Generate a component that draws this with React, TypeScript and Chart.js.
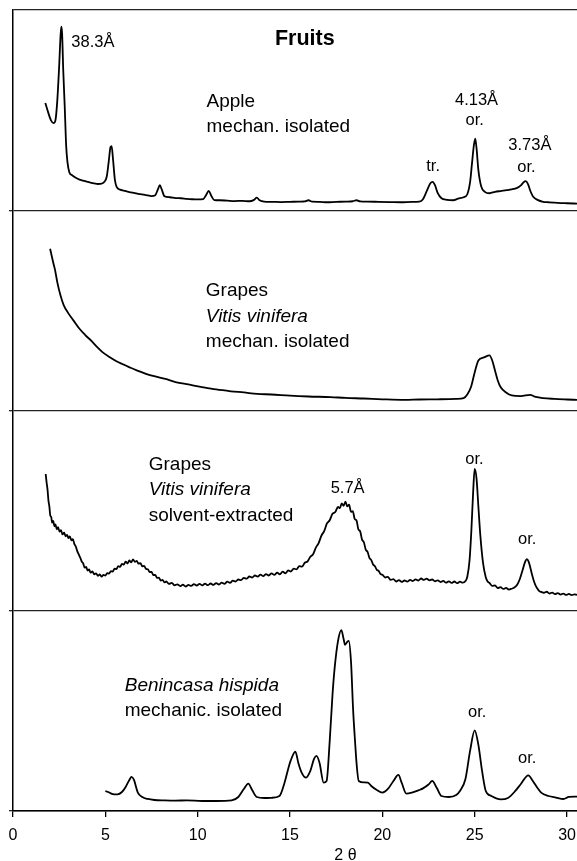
import React, { useEffect, useRef } from "react";
import { Chart, registerables } from "chart.js";

Chart.register(...registerables);

// x-axis ticks (2θ) and panel boundaries (each panel is 100 units tall)
const xTicks = [0, 5, 10, 15, 20, 25, 30];
const panelBounds = [0, 100, 200, 300, 400];

// Panel 1: Apple, mechan. isolated
const appleX = [1.75, 1.9, 2.05, 2.2, 2.3, 2.4, 2.5, 2.58, 2.62, 2.66, 2.72, 2.8, 2.88, 2.95, 3.05, 3.2, 3.4, 3.6, 3.8, 4.0, 4.2, 4.4, 4.6, 4.8, 4.95, 5.08, 5.18, 5.28, 5.34, 5.42, 5.52, 5.62, 5.8, 6.0, 6.3, 6.6, 6.9, 7.2, 7.5, 7.7, 7.85, 7.95, 8.05, 8.2, 8.5, 8.8, 9.1, 9.4, 9.7, 10.0, 10.3, 10.45, 10.6, 10.75, 10.9, 11.2, 11.6, 12.0, 12.4, 12.8, 13.05, 13.2, 13.35, 13.6, 14.0, 14.5, 15.0, 15.5, 15.8, 16.0, 16.2, 16.6, 17.0, 17.5, 18.0, 18.4, 18.6, 18.8, 19.2, 19.8, 20.4, 21.0, 21.6, 22.0, 22.2, 22.4, 22.6, 22.72, 22.85, 23.0, 23.2, 23.5, 23.84, 24.1, 24.4, 24.6, 24.75, 24.85, 24.95, 25.03, 25.1, 25.2, 25.35, 25.55, 25.8, 26.1, 26.4, 26.73, 27.0, 27.3, 27.5, 27.65, 27.76, 27.88, 28.0, 28.17, 28.4, 28.71, 29.0, 29.5, 30.0, 30.54];
const appleY = [53.6, 49, 45, 43.5, 45, 55, 72, 88, 91.7, 88, 70, 52, 32, 24, 19, 17.5, 16.2, 15.3, 14.8, 14.3, 13.8, 13.4, 13.1, 13.3, 14.2, 17, 24, 31.5, 32, 25, 15, 11.5, 10.3, 9.8, 9.1, 8.6, 8.0, 7.6, 7.1, 7.5, 10.5, 12.5, 10.5, 7.0, 6.5, 6.1, 6.0, 5.7, 5.5, 5.4, 5.6, 7.5, 9.7, 7.0, 5.1, 5.0, 4.8, 4.6, 4.7, 4.5, 5.2, 6.3, 5.0, 4.3, 4.2, 4.1, 4.2, 4.3, 4.4, 5.0, 4.3, 4.2, 4.0, 4.2, 4.3, 4.5, 5.0, 4.4, 4.3, 4.2, 4.1, 4.0, 4.2, 4.3, 5.5, 9.5, 13.5, 14.2, 12.5, 8.5, 6.0, 5.2, 5.0, 5.8, 6.5, 8.0, 14, 23, 32, 35.8, 31, 20, 12, 9.2, 8.5, 9.2, 9.6, 10, 10.4, 11.2, 12.4, 14.0, 14.5, 13.2, 10, 6.7, 5.2, 4.2, 4.0, 3.7, 3.5, 3.3];

// Panel 2: Grapes, Vitis vinifera, mechan. isolated
const grapesMechX = [2.01, 2.1, 2.2, 2.27, 2.4, 2.57, 2.75, 3.0, 3.27, 3.6, 3.9, 4.26, 4.56, 4.86, 5.2, 5.6, 6.0, 6.26, 6.7, 7.2, 7.7, 8.25, 8.8, 9.5, 10.24, 11.0, 11.8, 12.5, 13.23, 14.0, 15.0, 16.0, 17.2, 18.0, 19.0, 20.0, 21.2, 22.0, 23.0, 24.0, 24.4, 24.6, 24.8, 25.0, 25.2, 25.5, 25.8, 25.95, 26.1, 26.25, 26.4, 26.7, 27.0, 27.5, 28.0, 28.3, 28.7, 29.3, 30.0, 30.54];
const grapesMechY = [80.8, 77, 73, 70.5, 64, 57.5, 52.5, 48.5, 45, 40.8, 37.8, 34.6, 31.6, 29.0, 26.8, 24.6, 22.9, 21.8, 20, 18.3, 17, 15.8, 14.2, 13, 11.7, 10.5, 9.6, 9.0, 8.3, 8.0, 7.4, 7.0, 6.7, 6.3, 6.0, 5.6, 5.3, 5.5, 5.6, 5.8, 6.2, 8, 11.7, 19, 25, 26.5, 27.5, 25, 20, 15, 11.7, 9, 7.5, 7.2, 7.8, 6.8, 6.2, 5.8, 5.5, 5.3];

// Panel 3: Grapes, Vitis vinifera, solvent-extracted (noisy trace)
const grapesSolvX = [1.77, 1.82, 1.87, 1.92, 1.97, 2.02, 2.07, 2.12, 2.18, 2.24, 2.3, 2.37, 2.44, 2.52, 2.6, 2.68, 2.77, 2.85, 2.93, 3.0, 3.08, 3.16, 3.24, 3.32, 3.4, 3.48, 3.56, 3.64, 3.72, 3.8, 3.88, 3.96, 4.04, 4.12, 4.2, 4.3, 4.4, 4.5, 4.6, 4.7, 4.8, 4.9, 5.0, 5.1, 5.2, 5.3, 5.4, 5.5, 5.6, 5.7, 5.8, 5.9, 6.0, 6.1, 6.2, 6.3, 6.4, 6.5, 6.6, 6.7, 6.8, 6.9, 7.0, 7.1, 7.2, 7.3, 7.4, 7.5, 7.6, 7.7, 7.8, 7.9, 8.0, 8.1, 8.2, 8.3, 8.45, 8.6, 8.75, 8.9, 9.05, 9.2, 9.35, 9.5, 9.65, 9.8, 9.95, 10.1, 10.25, 10.4, 10.55, 10.7, 10.85, 11.0, 11.15, 11.3, 11.45, 11.6, 11.75, 11.9, 12.05, 12.2, 12.35, 12.5, 12.65, 12.8, 12.95, 13.1, 13.25, 13.4, 13.55, 13.7, 13.85, 14.0, 14.15, 14.3, 14.45, 14.6, 14.75, 14.9, 15.05, 15.2, 15.35, 15.5, 15.65, 15.8, 15.95, 16.1, 16.25, 16.4, 16.55, 16.7, 16.85, 17.0, 17.15, 17.3, 17.45, 17.6, 17.7, 17.8, 17.9, 18.0, 18.1, 18.2, 18.3, 18.4, 18.5, 18.6, 18.7, 18.8, 18.9, 19.0, 19.1, 19.2, 19.3, 19.4, 19.5, 19.6, 19.7, 19.8, 19.9, 20.0, 20.15, 20.3, 20.45, 20.6, 20.75, 20.9, 21.05, 21.2, 21.35, 21.5, 21.65, 21.8, 21.95, 22.1, 22.25, 22.4, 22.55, 22.7, 22.85, 23.0, 23.15, 23.3, 23.45, 23.6, 23.75, 23.9, 24.05, 24.2, 24.35, 24.5, 24.6, 24.72, 24.82, 24.92, 25.0, 25.1, 25.2, 25.3, 25.45, 25.6, 25.7, 25.8, 25.95, 26.1, 26.25, 26.4, 26.55, 26.7, 26.85, 27.0, 27.15, 27.3, 27.45, 27.6, 27.72, 27.83, 27.92, 28.0, 28.1, 28.2, 28.3, 28.4, 28.5, 28.6, 28.75, 28.9, 29.05, 29.2, 29.35, 29.5, 29.65, 29.8, 29.95, 30.1, 30.25, 30.4, 30.54];
const grapesSolvY = [68.3, 64, 60.5, 55, 52, 47.5, 46.8, 44, 44.9, 42.2, 43.1, 40.6, 41.8, 39.5, 40.2, 38.1, 39.0, 37.2, 37.9, 36.3, 37.1, 35.2, 35.8, 33.4, 32.1, 29.8, 28.1, 26.5, 24.6, 23.7, 21.5, 21.9, 20.1, 20.6, 19.0, 19.6, 18.2, 18.7, 17.4, 18.1, 17.0, 17.9, 17.6, 18.8, 18.5, 19.8, 19.5, 21.0, 20.8, 22.3, 21.9, 23.4, 23.0, 24.5, 23.6, 25.1, 24.2, 25.6, 24.4, 24.9, 23.5, 23.8, 22.2, 22.4, 20.9, 20.7, 19.3, 19.4, 17.8, 17.9, 16.4, 16.5, 15.1, 15.4, 14.2, 14.6, 13.4, 13.9, 12.7, 13.2, 12.3, 13.0, 12.1, 12.9, 12.4, 13.3, 12.6, 13.4, 12.7, 13.5, 12.8, 13.6, 12.9, 13.8, 13.1, 14.0, 13.4, 14.5, 13.9, 15.0, 14.6, 15.6, 15.3, 16.4, 16.0, 17.1, 16.6, 17.6, 17.0, 18.0, 17.3, 18.3, 17.6, 18.7, 17.9, 19.0, 18.2, 19.5, 18.7, 20.1, 19.6, 21.0, 20.7, 22.3, 22.0, 24.0, 24.6, 27.0, 28.2, 31.5, 33.8, 37.5, 39.8, 43.6, 45.2, 48.4, 49.3, 51.8, 51.2, 53.6, 52.4, 54.5, 52.1, 53.0, 49.4, 49.8, 45.9, 45.1, 40.7, 39.6, 35.5, 34.2, 30.5, 29.4, 26.4, 25.3, 23.1, 22.2, 20.4, 19.9, 18.3, 18.0, 16.6, 16.9, 15.4, 15.8, 14.6, 15.3, 14.4, 15.1, 14.5, 15.4, 14.8, 15.7, 15.1, 16.1, 15.4, 16.0, 15.2, 15.6, 14.7, 15.2, 14.3, 14.9, 14.0, 14.7, 13.9, 14.6, 13.8, 14.5, 14.0, 14.8, 17, 25, 40, 60, 70.8, 66, 52, 38.3, 24, 16.7, 14.6, 13.9, 12.4, 12.6, 11.3, 11.8, 10.9, 11.4, 10.6, 11.0, 11.6, 13.0, 16.0, 20.5, 24.2, 25.8, 24.5, 22, 18.2, 15, 12.6, 11, 9.8, 9.4, 9.0, 9.5, 8.6, 9.1, 8.3, 8.8, 8.1, 8.6, 7.9, 8.4, 7.8, 8.2, 7.9];

// Panel 4: Benincasa hispida, mechanic. isolated
const benincasaX = [5.0, 5.15, 5.35, 5.66, 5.9, 6.1, 6.3, 6.42, 6.55, 6.76, 7.0, 7.3, 7.65, 8.2, 8.8, 9.4, 10.24, 11.0, 11.84, 12.2, 12.5, 12.74, 12.95, 13.2, 13.6, 14.0, 14.43, 14.7, 14.9, 15.03, 15.29, 15.45, 15.63, 15.87, 16.1, 16.3, 16.43, 16.6, 16.82, 16.98, 17.15, 17.3, 17.42, 17.6, 17.78, 17.9, 17.98, 18.1, 18.18, 18.3, 18.42, 18.52, 18.62, 18.72, 19.0, 19.22, 19.4, 19.7, 20.0, 20.3, 20.6, 20.87, 21.05, 21.3, 21.6, 22.0, 22.2, 22.5, 22.7, 22.95, 23.2, 23.6, 24.0, 24.2, 24.5, 24.75, 25.0, 25.2, 25.4, 25.6, 25.9, 26.4, 26.8, 27.2, 27.5, 27.9, 28.15, 28.4, 28.6, 29.0, 29.4, 29.8, 30.1, 30.54];
const benincasaY = [10, 9.5, 8.6, 8.3, 9.5, 12, 15.5, 17, 15.5, 9.2, 7.0, 6.0, 5.5, 5.3, 5.2, 5.3, 5.0, 5.0, 5.3, 7, 11, 13.7, 10.5, 7, 6.5, 6.6, 7.5, 14, 21, 25, 29.7, 24, 19.2, 16.7, 20, 26, 27.5, 24, 14.2, 15, 35, 58, 71.7, 85, 90.3, 86, 83, 84.5, 85, 75, 50, 35, 22, 15, 14.3, 14.2, 12.5, 10.5, 9.2, 11, 15, 18, 14, 8.7, 9.2, 10.5, 11.3, 13.2, 15, 11.5, 7.5, 7.0, 8.0, 10, 16, 30, 40.3, 33, 20, 10, 7.5, 5.8, 6.5, 10, 13.5, 17.8, 15, 11.5, 9.2, 7.5, 6.7, 6.0, 7.0, 7.2];

const seriesX = [appleX, grapesMechX, grapesSolvX, benincasaX];
const seriesY = [appleY, grapesMechY, grapesSolvY, benincasaY];
const panelOffsets = [300, 200, 100, 0];

// Text annotations (data coordinates)
const labelTexts = ["Fruits", "38.3Å", "Apple", "mechan. isolated", "4.13Å", "or.", "tr.", "3.73Å", "or.",
  "Grapes", "Vitis vinifera", "mechan. isolated",
  "Grapes", "Vitis vinifera", "solvent-extracted", "5.7Å", "or.", "or.",
  "Benincasa hispida", "mechanic. isolated", "or.", "or."];
const labelX = [15.8, 3.16, 10.48, 10.48, 25.1, 25.0, 22.75, 27.99, 27.8,
  10.44, 10.44, 10.44,
  7.35, 7.35, 7.35, 18.12, 24.99, 27.84,
  6.05, 6.05, 25.14, 27.84];
const labelY = [385.5, 384, 354, 341.5, 354.7, 344.7, 321.9, 332.2, 321.4,
  259.7, 246.9, 234.2,
  173, 160.2, 147.5, 160.9, 175.5, 135.5,
  62.5, 50, 49.1, 26.3];
const labelKind = ["title", "peakL", "name", "name", "peak", "peak", "peak", "peak", "peak",
  "name", "nameI", "name",
  "name", "nameI", "name", "peak", "peak", "peak",
  "nameI", "name", "peak", "peak"];

const FONT = "'Liberation Sans', Arial, sans-serif";

const annotationPlugin = {
  id: "annotationText",
  afterDraw(chart: any) {
    const ctx = chart.ctx;
    const xs = chart.scales.x;
    const ys = chart.scales.y;
    ctx.save();
    ctx.fillStyle = "#000";
    ctx.textBaseline = "middle";
    for (let i = 0; i < labelTexts.length; i++) {
      const kind = labelKind[i];
      const px = xs.getPixelForValue(labelX[i]);
      const py = ys.getPixelForValue(labelY[i]);
      if (kind === "title") {
        ctx.font = "bold 21.5px " + FONT;
        ctx.textAlign = "center";
      } else if (kind === "peak") {
        ctx.font = "16.5px " + FONT;
        ctx.textAlign = "center";
      } else if (kind === "peakL") {
        ctx.font = "16.5px " + FONT;
        ctx.textAlign = "left";
      } else if (kind === "nameI") {
        ctx.font = "italic 19px " + FONT;
        ctx.textAlign = "left";
      } else {
        ctx.font = "19px " + FONT;
        ctx.textAlign = "left";
      }
      ctx.fillText(labelTexts[i], px, py);
    }
    // x-axis title
    ctx.font = "16px " + FONT;
    ctx.textAlign = "center";
    ctx.fillText("2 θ", xs.getPixelForValue(18), chart.chartArea.bottom + 45);
    ctx.restore();
  },
};

export default function App() {
  const ref = useRef<HTMLCanvasElement | null>(null);
  useEffect(() => {
    if (!ref.current) return;
    const datasets = seriesX.map((xs, k) => ({
      data: xs.map((x, i) => ({ x, y: seriesY[k][i] + panelOffsets[k] })),
      borderColor: "#000",
      borderWidth: 1.8,
      pointRadius: 0,
      fill: false,
      cubicInterpolationMode: "monotone" as const,
    }));
    const chart = new Chart(ref.current, {
      type: "line",
      data: { datasets },
      plugins: [annotationPlugin],
      options: {
        animation: false,
        responsive: false,
        layout: { padding: { top: 10, left: 0, right: 0, bottom: 0 } },
        plugins: { legend: { display: false }, tooltip: { enabled: false } },
        scales: {
          x: {
            type: "linear",
            min: 0,
            max: 30.54,
            afterBuildTicks: (s: any) => {
              s.ticks = xTicks.map((v) => ({ value: v }));
            },
            afterFit: (s: any) => {
              s.height = 50;
              s.paddingLeft = 0;
              s.paddingRight = 0;
            },
            ticks: {
              color: "#000",
              font: { family: FONT, size: 16 },
              padding: 9,
              maxRotation: 0,
              autoSkip: false,
              callback: (v: any) => String(v),
            },
            grid: { drawOnChartArea: false, drawTicks: true, tickLength: 6, color: "#000", lineWidth: 1.3 },
            border: { display: true, color: "#000", width: 1.5 },
          },
          y: {
            type: "linear",
            min: 0,
            max: 400,
            afterBuildTicks: (s: any) => {
              s.ticks = panelBounds.map((v) => ({ value: v }));
            },
            afterFit: (s: any) => {
              s.width = 13;
              s.paddingTop = 0;
              s.paddingBottom = 0;
            },
            ticks: { display: false },
            grid: {
              color: "#222",
              lineWidth: 1.3,
              tickLength: 4,
              drawOnChartArea: true,
              tickColor: (c: any) => (c.tick && c.tick.value === 400 ? "rgba(0,0,0,0)" : "#222"),
            },
            border: { display: true, color: "#000", width: 1.5 },
          },
        },
      },
    });
    return () => chart.destroy();
  }, []);
  return (
    <div style={{ position: "fixed", left: 0, top: 0, width: 577, height: 861, background: "#fff" }}>
      <canvas ref={ref} width={577} height={861} style={{ display: "block", width: 577, height: 861 }} />
    </div>
  );
}
